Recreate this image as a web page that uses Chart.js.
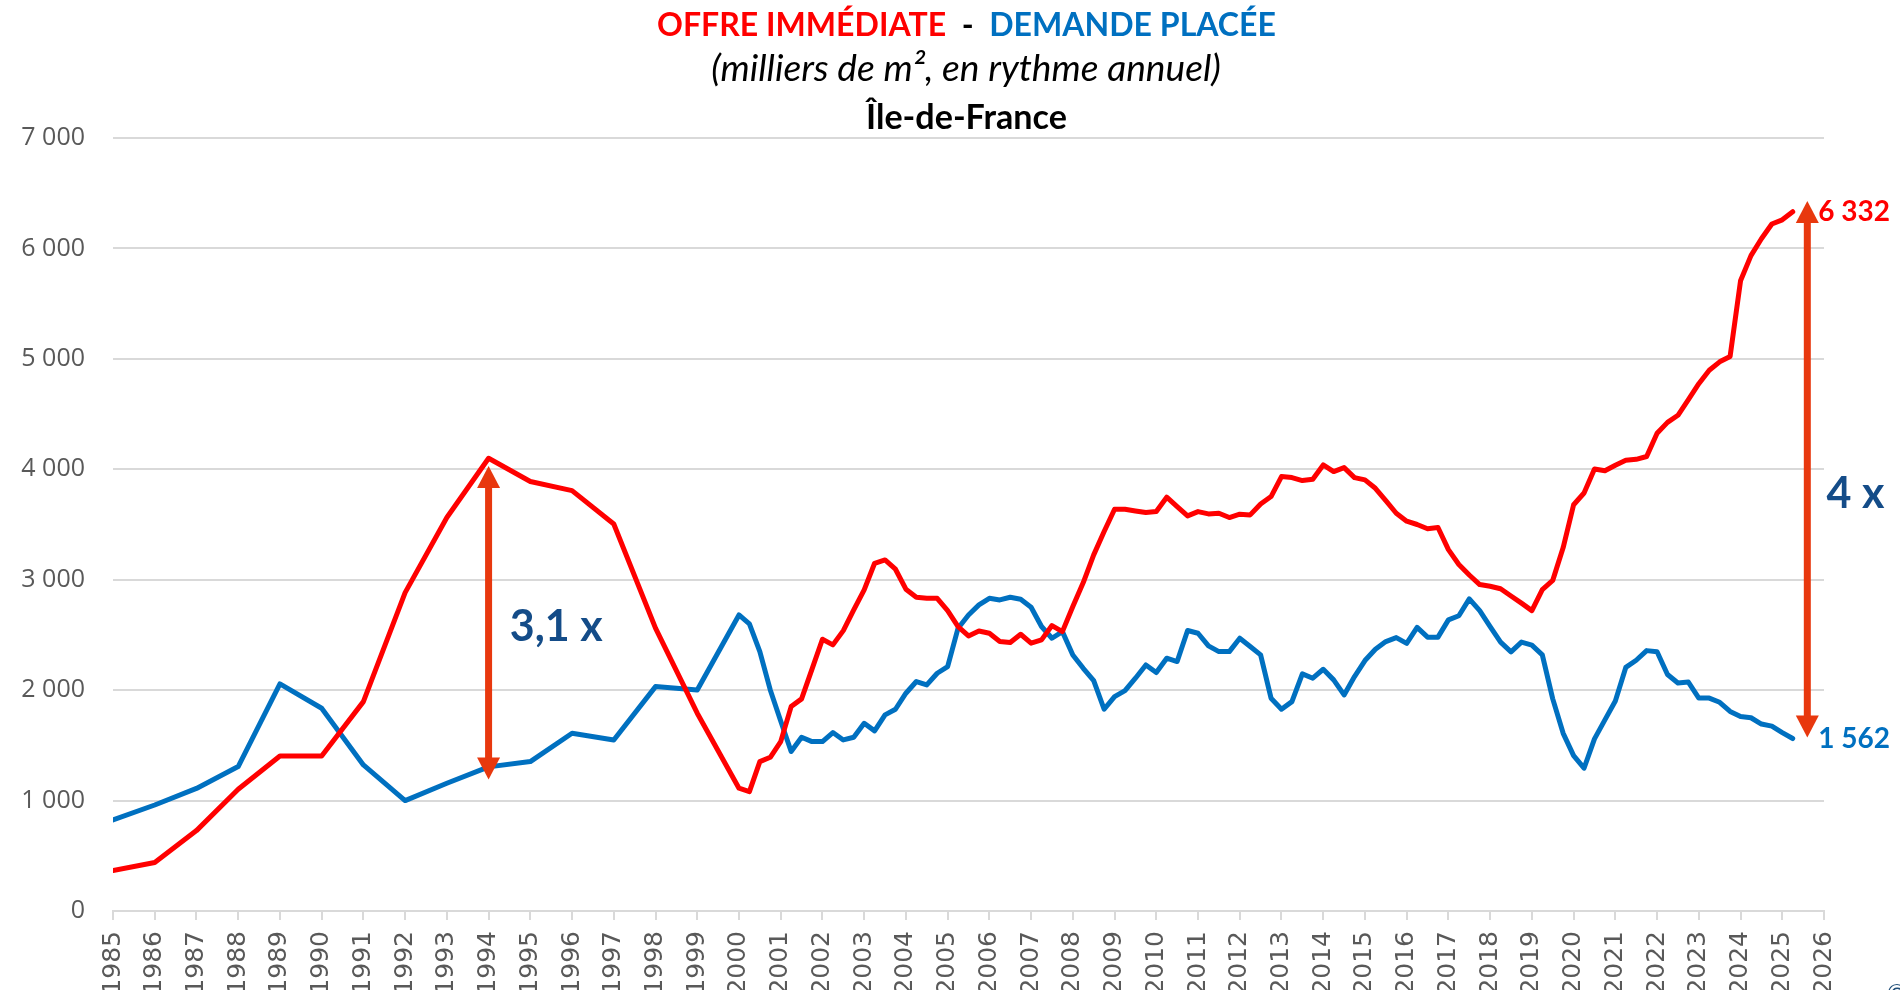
<!DOCTYPE html>
<html><head><meta charset="utf-8">
<script src="https://cdn.jsdelivr.net/npm/chart.js@4.4.1/dist/chart.umd.min.js"></script>
<style>
html,body{margin:0;padding:0;overflow:hidden;background:#fff;width:1900px;height:990px;}
#wrap{position:relative;width:1900px;height:1000px;}
canvas{position:absolute;left:0;top:0;}
.t{position:absolute;white-space:pre;line-height:1.2;font-family:Lato,"Open Sans",sans-serif;}
</style></head><body>
<div id="wrap">
<canvas id="c" width="1900" height="1000"></canvas>
<div id="t1" class="t" style="font-weight:700;font-size:29px;"><span style="color:#FF0000">OFFRE IMMÉDIATE</span><span style="color:#000000">  -  </span><span style="color:#0070C0">DEMANDE PLACÉE</span></div>
<div id="t2" class="t" style="font-style:italic;font-size:29px;color:#000;">(milliers de m², en rythme annuel)</div>
<div id="t3" class="t" style="font-weight:700;font-size:28px;color:#000;">Île-de-France</div>
<div id="t4" class="t" style="font-size:24px;color:#1F4E79;left:1887px;top:978px;">©</div>
</div>
<script>
// ---- data ----
const periods = [
 1985,1986,1987,1988,1989,1990,1991,1992,1993,1994,1995,1996,1997,1998,1999,
 2000,2000.25,2000.5,2000.75,2001,2001.25,2001.5,2001.75,2002,2002.25,2002.5,2002.75,
 2003,2003.25,2003.5,2003.75,2004,2004.25,2004.5,2004.75,2005,2005.25,2005.5,2005.75,
 2006,2006.25,2006.5,2006.75,2007,2007.25,2007.5,2007.75,2008,2008.25,2008.5,2008.75,
 2009,2009.25,2009.5,2009.75,2010,2010.25,2010.5,2010.75,2011,2011.25,2011.5,2011.75,
 2012,2012.25,2012.5,2012.75,2013,2013.25,2013.5,2013.75,2014,2014.25,2014.5,2014.75,
 2015,2015.25,2015.5,2015.75,2016,2016.25,2016.5,2016.75,2017,2017.25,2017.5,2017.75,
 2018,2018.25,2018.5,2018.75,2019,2019.25,2019.5,2019.75,2020,2020.25,2020.5,2020.75,
 2021,2021.25,2021.5,2021.75,2022,2022.25,2022.5,2022.75,2023,2023.25,2023.5,2023.75,
 2024,2024.25,2024.5,2024.75,2025,2025.25
];
const offreImmediate = [
 366,439,728,1103,1404,1404,1896,2883,3563,4100,3889,3807,3505,2561,1791,
 1112,1081,1353,1392,1534,1851,1921,2190,2461,2410,2539,2727,
 2908,3149,3179,3095,2914,2841,2832,2832,2720,2576,2491,2536,
 2515,2440,2431,2506,2425,2455,2585,2530,2757,2974,3225,3436,
 3638,3638,3623,3608,3617,3747,3662,3578,3617,3596,3602,3563,
 3593,3587,3686,3753,3934,3925,3898,3910,4039,3979,4015,3925,
 3904,3828,3717,3602,3530,3500,3462,3473,3272,3138,3043,2956,
 2941,2918,2853,2788,2720,2910,2994,3291,3679,3785,4002,3987,
 4037,4082,4090,4116,4326,4425,4489,4630,4775,4897,4973,5022,
 5707,5935,6088,6221,6259,6332
];
const demandePlacee = [
 825,960,1110,1308,2056,1836,1323,1000,1157,1305,1353,1610,1549,2032,2002,
 2681,2600,2349,2002,1720,1444,1573,1534,1534,1616,1549,1573,
 1700,1631,1776,1827,1972,2078,2047,2153,2213,2561,2681,2772,
 2832,2817,2841,2823,2751,2576,2470,2530,2319,2198,2087,1827,
 1942,1996,2108,2228,2159,2289,2259,2540,2515,2401,2349,2349,
 2470,2395,2319,1927,1827,1896,2147,2108,2189,2093,1957,2123,
 2268,2370,2440,2476,2423,2568,2480,2480,2636,2674,2826,2720,
 2575,2435,2347,2435,2408,2320,1921,1609,1407,1293,1559,1731,
 1902,2206,2271,2358,2347,2142,2065,2073,1928,1928,1890,1807,
 1761,1750,1693,1674,1616,1562
];
const xTickYears = [1985,1986,1987,1988,1989,1990,1991,1992,1993,1994,1995,1996,1997,1998,1999,2000,
 2001,2002,2003,2004,2005,2006,2007,2008,2009,2010,2011,2012,2013,2014,2015,2016,2017,2018,2019,2020,
 2021,2022,2023,2024,2025,2026];
const yTickValues = [0,1000,2000,3000,4000,5000,6000,7000];
// annotations (x in years, y in thousands m²)
const arrowSpans = [[1994, 1190, 4030],[2025.6, 1571, 6430]];
const ratioLabels = [{text:'3,1 x', x:1994.51, y:2444}, {text:'4 x', x:2026.06, y:3648}];
const endLabels = [{text:'6 332', x:2025.86, y:6246, color:'#FF0000'}, {text:'1 562', x:2025.86, y:1475, color:'#0070C0'}];

const fmt = v => String(v).replace(/\B(?=(\d{3})+(?!\d))/g,' ');

const annot = {
 id:'annot',
 afterDatasetsDraw(chart){
  const {ctx, scales:{x,y}} = chart;
  ctx.save();
  ctx.fillStyle = '#E8380E';
  arrowSpans.forEach(([xv,y0,y1])=>{
    const px = x.getPixelForValue(xv), pb = y.getPixelForValue(y0), pt = y.getPixelForValue(y1);
    const hw = 11.5, hh = 22, sw = 3.5;
    ctx.fillRect(px-sw, pt+hh-2, sw*2, (pb-hh+2)-(pt+hh-2));
    ctx.beginPath(); ctx.moveTo(px,pt); ctx.lineTo(px+hw,pt+hh); ctx.lineTo(px-hw,pt+hh); ctx.closePath(); ctx.fill();
    ctx.beginPath(); ctx.moveTo(px,pb); ctx.lineTo(px+hw,pb-hh); ctx.lineTo(px-hw,pb-hh); ctx.closePath(); ctx.fill();
  });
  ctx.textBaseline = 'alphabetic'; ctx.textAlign = 'left';
  ctx.font = '700 43px Lato';
  ctx.fillStyle = '#144C88';
  ratioLabels.forEach(l=>ctx.fillText(l.text, x.getPixelForValue(l.x), y.getPixelForValue(l.y)));
  ctx.font = '700 28px Lato';
  endLabels.forEach(l=>{ctx.fillStyle=l.color; ctx.fillText(l.text, x.getPixelForValue(l.x), y.getPixelForValue(l.y));});
  ctx.restore();
 }
};

const mk = arr => periods.map((p,i)=>({x:p, y:arr[i]}));

new Chart(document.getElementById('c'), {
 type:'line',
 data:{datasets:[
  {label:'Offre immédiate', data:mk(offreImmediate), borderColor:'#FF0000', borderWidth:5, pointRadius:0, tension:0, borderJoinStyle:'round', borderCapStyle:'round', fill:false},
  {label:'Demande placée', data:mk(demandePlacee), borderColor:'#0070C0', borderWidth:5, pointRadius:0, tension:0, borderJoinStyle:'round', borderCapStyle:'round', fill:false}
 ]},
 options:{
  responsive:false, animation:false, devicePixelRatio:1,
  layout:{padding:{left:0,right:76,top:138,bottom:0}},
  plugins:{legend:{display:false},tooltip:{enabled:false},title:{display:false}},
  scales:{
   x:{type:'linear', min:1985, max:2026,
      afterBuildTicks:s=>{s.ticks = xTickYears.map(v=>({value:v}));},
      ticks:{autoSkip:false, maxRotation:90, minRotation:90, padding:11, color:'#595959', font:{family:'DejaVu Sans', size:25}, callback:v=>String(v)},
      grid:{display:true, drawOnChartArea:false, drawTicks:true, tickLength:9, color:'#D9D9D9', lineWidth:2},
      border:{display:true, color:'#D9D9D9', width:2},
      afterFit:s=>{s.height = 89;}},
   y:{min:0, max:7000,
      afterBuildTicks:s=>{s.ticks = yTickValues.map(v=>({value:v}));},
      ticks:{padding:28, color:'#595959', font:{family:'Open Sans', size:25}, callback:v=>fmt(v)},
      grid:{color:'#D9D9D9', lineWidth:2, drawTicks:false},
      border:{display:false},
      afterFit:s=>{s.width = 113;}}
  }
 },
 plugins:[annot]
});

// titles: fit widths & baselines to the reference
const titleLayout = [
 {id:'t1', cx:966.5, base:37, w:619},
 {id:'t2', cx:966, base:82, w:510},
 {id:'t3', cx:966.5, base:130, w:201}
];
titleLayout.forEach(t=>{
 const el = document.getElementById(t.id);
 let fs = parseFloat(el.style.fontSize);
 const w0 = el.getBoundingClientRect().width;
 fs = fs * t.w / w0;
 el.style.fontSize = fs + 'px';
 const w = el.getBoundingClientRect().width;
 el.style.left = (t.cx - w/2) + 'px';
 el.style.top = (t.base - 0.987*fs) + 'px';
});
</script>
</body></html>
